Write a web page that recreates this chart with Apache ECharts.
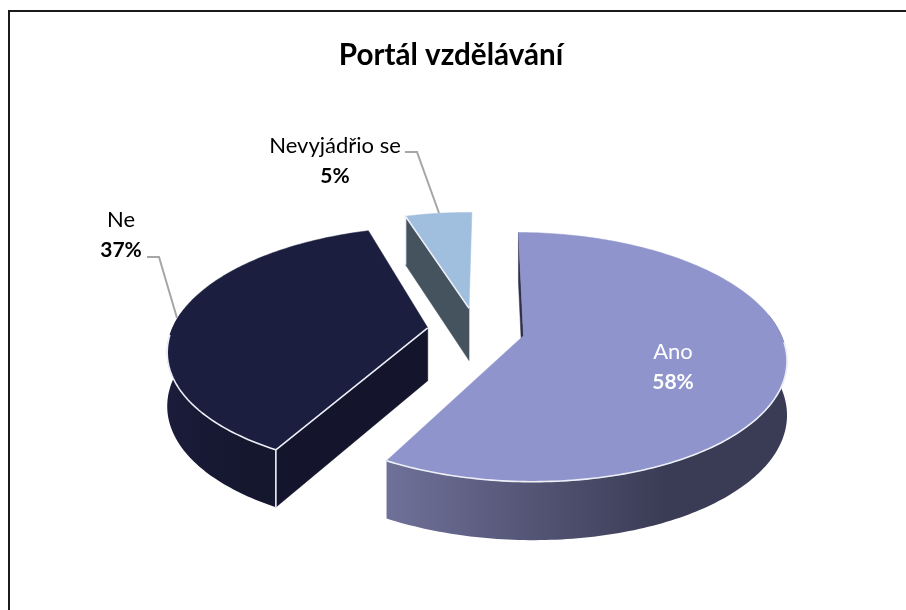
<!DOCTYPE html>
<html>
<head>
<meta charset="utf-8">
<script src="https://cdn.jsdelivr.net/npm/echarts@6/dist/echarts.min.js"></script>
<style>
html, body { margin: 0; padding: 0; background: #fff; }
#main { width: 906px; height: 610px; }
</style>
</head>
<body>
<div id="main"></div>
<script>
var chartTitle = 'Portál vzdělávání';
var categories = ['Ano', 'Ne', 'Nevyjádřio se'];
var shares = [57.8, 37.2, 5];

// colours per slice
var topColors = ['#8f95cc', '#1b1e3f', '#a0bfde'];
var wallStops = [
    ['#6f7199', '#3a3b54'],
    ['#1a1c3a', '#15172f'],
    ['#45535f', '#45535f']
];
var faceColors = ['#2e2f48', '#14152c', '#45535f'];

// fake 3D view, see project()
var CX = 476, CY = 330, R = 256, TILT = 119, DEPTH = 53, PERSP = 0.17;
var EXPLODE = 0.19, START_DEG = 0.5;

// label anchors and leader lines, pixels
var labelPos = [[673, 367], [121, 235], [335, 161]];
var leaders = [
    null,
    [[147, 257], [159, 257], [177, 318]],
    [[405, 152], [417, 152], [439, 213]]
];

function project(u, v, z) {
    var s = 1 / (1 - PERSP * v);
    return [CX + R * u * s, CY + TILT * v * s + DEPTH * z * Math.sqrt(s)];
}

function signedArea(pts) {
    var a = 0;
    for (var i = 0; i < pts.length; i++) {
        var p = pts[i], q = pts[(i + 1) % pts.length];
        a += p[0] * q[1] - q[0] * p[1];
    }
    return a;
}

function renderSlice(params, api) {
    var idx = params.dataIndex;
    var total = shares.reduce(function (a, b) { return a + b; }, 0);
    var before = 0;
    for (var i = 0; i < idx; i++) before += shares[i];
    var a0 = (START_DEG + before / total * 360) * Math.PI / 180;
    var a1 = (START_DEG + (before + api.value(0)) / total * 360) * Math.PI / 180;
    var mid = (a0 + a1) / 2;
    var ou = Math.sin(mid) * EXPLODE, ov = -Math.cos(mid) * EXPLODE;

    function pt(a, r, z) {
        return project(ou + Math.sin(a) * r, ov - Math.cos(a) * r, z);
    }

    var steps = Math.ceil((a1 - a0) / (Math.PI / 180));
    var rim = [];
    var topPts = [pt(0, 0, 0)];
    for (var k = 0; k <= steps; k++) {
        var a = a0 + (a1 - a0) * k / steps;
        rim.push(a);
        topPts.push(pt(a, 1, 0));
    }

    var children = [];
    var seams = [];

    // radial faces, culled when turned away from the viewer.
    // end faces that are almost edge-on are dropped too
    [[a0, false], [a1, true]].forEach(function (f) {
        var quad = [pt(0, 0, 0), pt(f[0], 1, 0), pt(f[0], 1, 1), pt(0, 0, 1)];
        var area = signedArea(quad);
        if ((f[1] && area > 400) || (!f[1] && area < 0)) {
            children.push({
                type: 'polygon',
                shape: { points: quad },
                style: { fill: faceColors[idx], stroke: faceColors[idx], lineWidth: 0.5 }
            });
            if (Math.abs(area) > 3000) {
                seams.push([pt(0, 0, 0), pt(f[0], 1, 0), pt(f[0], 1, 1)]);
            }
        }
    });

    // outer wall: only the part of the rim that faces the viewer
    var upper = [], lower = [], frontRim = [];
    rim.forEach(function (a) {
        if (-Math.cos(a) >= -0.02 || Math.abs(Math.sin(a)) > 0.985) {
            upper.push(pt(a, 1, 0));
            lower.unshift(pt(a, 1, 1));
        }
        if (-Math.cos(a) > 0.05) {
            frontRim.push(pt(a, 1, 0));
        }
    });
    if (upper.length > 1) {
        children.push({
            type: 'polygon',
            shape: { points: upper.concat(lower) },
            style: {
                fill: {
                    type: 'linear', x: 0, y: 0, x2: 1, y2: 0,
                    colorStops: [
                        { offset: 0, color: wallStops[idx][0] },
                        { offset: 0.7, color: wallStops[idx][1] },
                        { offset: 1, color: wallStops[idx][1] }
                    ]
                }
            }
        });
        seams.push(frontRim);
    }

    children.push({
        type: 'polygon',
        shape: { points: topPts },
        style: { fill: topColors[idx], stroke: topColors[idx], lineWidth: 0.5 }
    });

    // light seams along the edges that face the viewer
    seams.forEach(function (points) {
        children.push({
            type: 'polyline',
            shape: { points: points },
            style: { fill: null, stroke: '#eef0f8', lineWidth: 1.6 }
        });
    });

    if (leaders[idx]) {
        children.push({
            type: 'polyline',
            shape: { points: leaders[idx] },
            style: { fill: null, stroke: '#a6a6a6', lineWidth: 2 }
        });
    }

    var pct = Math.round(api.value(0) / total * 100) + '%';
    var labelColor = idx === 0 ? '#ffffff' : '#000000';
    children.push({
        type: 'text',
        x: labelPos[idx][0],
        y: labelPos[idx][1],
        style: {
            text: '{n|' + categories[idx] + '}\n{p|' + pct + '}',
            align: 'center',
            verticalAlign: 'middle',
            rich: {
                n: { fontFamily: 'Lato', fontSize: 22, lineHeight: 31, fill: labelColor, align: 'center' },
                p: { fontFamily: 'Lato', fontSize: 21, lineHeight: 31, fontWeight: 'bold', fill: labelColor, align: 'center' }
            }
        }
    });

    return { type: 'group', children: children };
}

var chart = echarts.init(document.getElementById('main'), null, { renderer: 'canvas' });
chart.setOption({
    animation: false,
    backgroundColor: '#ffffff',
    title: {
        text: chartTitle,
        left: 446,
        top: 35,
        textAlign: 'center',
        textStyle: { fontFamily: 'Lato', fontSize: 29.6, fontWeight: 'bold', color: '#000000' }
    },
    graphic: [{
        type: 'polyline',
        shape: { points: [[9, 610], [9, 11], [906, 11]] },
        style: { fill: null, stroke: '#1a1a1a', lineWidth: 2 },
        silent: true
    }],
    series: [{
        type: 'custom',
        coordinateSystem: 'none',
        renderItem: renderSlice,
        data: shares.map(function (v) { return [v]; })
    }]
});
</script>
</body>
</html>
